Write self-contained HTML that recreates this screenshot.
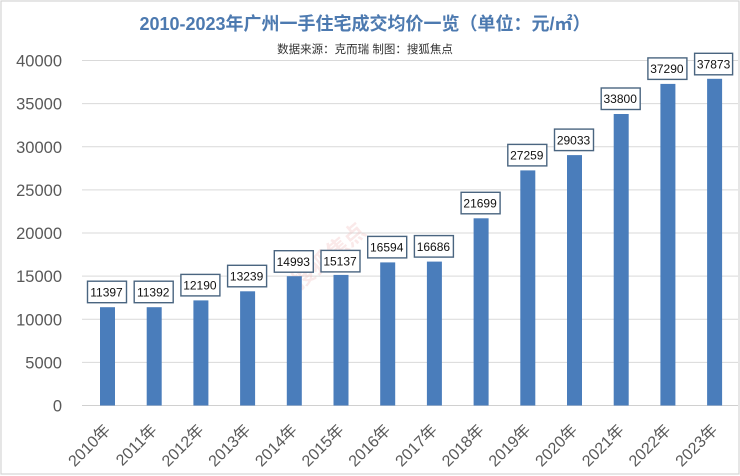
<!DOCTYPE html>
<html>
<head>
<meta charset="utf-8">
<style>
  html,body{margin:0;padding:0;background:#fff;}
  body{width:740px;height:476px;overflow:hidden;}
  svg{display:block;}
  .t{font-family:"Liberation Sans","Noto Sans CJK SC",sans-serif;}
</style>
</head>
<body>
<svg width="740" height="476" viewBox="0 0 740 476" xmlns="http://www.w3.org/2000/svg">
  <rect x="0" y="0" width="740" height="476" fill="#ffffff"/>
  <rect x="1" y="1" width="738" height="473" fill="none" stroke="#d4d4d4" stroke-width="1.2"/>

  <!-- Title -->
  <text class="t" x="365" y="30" text-anchor="middle" font-size="18" font-weight="bold" fill="#4d7ab0">2010-2023年广州一手住宅成交均价一览（单位：元/㎡）</text>
  <text class="t" x="365" y="53" text-anchor="middle" font-size="11.5" fill="#333333">数据来源：克而瑞 制图：搜狐焦点</text>

  <!-- Gridlines -->
  <g stroke="#d9d9d9" stroke-width="1">
    <line x1="82" y1="60.5" x2="738" y2="60.5"/>
    <line x1="82" y1="103.6" x2="738" y2="103.6"/>
    <line x1="82" y1="146.75" x2="738" y2="146.75"/>
    <line x1="82" y1="189.9" x2="738" y2="189.9"/>
    <line x1="82" y1="233" x2="738" y2="233"/>
    <line x1="82" y1="276.1" x2="738" y2="276.1"/>
    <line x1="82" y1="319.25" x2="738" y2="319.25"/>
    <line x1="82" y1="362.4" x2="738" y2="362.4"/>
  </g>
  <line x1="82" y1="405.5" x2="738" y2="405.5" stroke="#d0d0d0" stroke-width="1"/>

  <!-- Y labels -->
  <g class="t" font-size="16.5" fill="#595959" text-anchor="end">
    <text x="62" y="66.5">40000</text>
    <text x="62" y="109.6">35000</text>
    <text x="62" y="152.75">30000</text>
    <text x="62" y="195.9">25000</text>
    <text x="62" y="239">20000</text>
    <text x="62" y="282.1">15000</text>
    <text x="62" y="325.25">10000</text>
    <text x="62" y="368.4">5000</text>
    <text x="62" y="411.5">0</text>
  </g>

  <!-- Watermark -->
  <text class="t" x="0" y="0" font-size="22" font-weight="bold" fill="#f0b8b8" opacity="0.3" transform="translate(300,290) rotate(-40)">搜狐焦点</text>

  <!-- Bars -->
  <g fill="#4a7dbb">
    <rect x="100" y="307.2" width="15" height="98.3"/>
    <rect x="146.7" y="307.2" width="15" height="98.3"/>
    <rect x="193.4" y="300.4" width="15" height="105.1"/>
    <rect x="240.1" y="291.3" width="15" height="114.2"/>
    <rect x="286.8" y="276.2" width="15" height="129.3"/>
    <rect x="333.5" y="274.9" width="15" height="130.6"/>
    <rect x="380.2" y="262.4" width="15" height="143.1"/>
    <rect x="426.9" y="261.6" width="15" height="143.9"/>
    <rect x="473.6" y="218.3" width="15" height="187.2"/>
    <rect x="520.3" y="170.4" width="15" height="235.1"/>
    <rect x="567" y="155.1" width="15" height="250.4"/>
    <rect x="613.7" y="114" width="15" height="291.5"/>
    <rect x="660.4" y="83.9" width="15" height="321.6"/>
    <rect x="707.1" y="78.8" width="15" height="326.7"/>
  </g>

  <!-- Data label boxes -->
  <g fill="#ffffff" stroke="#4a6580" stroke-width="1.4">
    <rect x="87.5" y="281.2" width="39" height="21.5"/>
    <rect x="134.2" y="281.2" width="39" height="21.5"/>
    <rect x="180.9" y="274.4" width="39" height="21.5"/>
    <rect x="227.6" y="265.3" width="39" height="21.5"/>
    <rect x="274.3" y="250.7" width="39" height="21.5"/>
    <rect x="321" y="250.4" width="39" height="21.5"/>
    <rect x="367.7" y="236.4" width="39" height="21.5"/>
    <rect x="414.4" y="235.6" width="39" height="21.5"/>
    <rect x="461.1" y="192.3" width="39" height="21.5"/>
    <rect x="507.8" y="144.4" width="39" height="21.5"/>
    <rect x="554.5" y="129.1" width="39" height="21.5"/>
    <rect x="601.2" y="88" width="39" height="21.5"/>
    <rect x="647.9" y="57.9" width="39" height="21.5"/>
    <rect x="694.6" y="53.3" width="38" height="21.5"/>
  </g>
  <g class="t" font-size="12" fill="#111111" text-anchor="middle">
    <text x="106.5" y="296.4">11397</text>
    <text x="153.2" y="296.4">11392</text>
    <text x="199.9" y="289.6">12190</text>
    <text x="246.6" y="280.5">13239</text>
    <text x="293.3" y="265.9">14993</text>
    <text x="340" y="265.6">15137</text>
    <text x="386.7" y="251.6">16594</text>
    <text x="433.4" y="250.8">16686</text>
    <text x="480.1" y="207.5">21699</text>
    <text x="526.8" y="159.6">27259</text>
    <text x="573.5" y="144.3">29033</text>
    <text x="620.2" y="103.2">33800</text>
    <text x="666.9" y="73.1">37290</text>
    <text x="713.6" y="68.5">37873</text>
  </g>

  <!-- X labels -->
  <g class="t" font-size="16" fill="#595959" text-anchor="end">
    <text transform="translate(111.3,431) rotate(-45)">2010年</text>
    <text transform="translate(158,431) rotate(-45)">2011年</text>
    <text transform="translate(204.7,431) rotate(-45)">2012年</text>
    <text transform="translate(251.4,431) rotate(-45)">2013年</text>
    <text transform="translate(298.1,431) rotate(-45)">2014年</text>
    <text transform="translate(344.8,431) rotate(-45)">2015年</text>
    <text transform="translate(391.5,431) rotate(-45)">2016年</text>
    <text transform="translate(438.2,431) rotate(-45)">2017年</text>
    <text transform="translate(484.9,431) rotate(-45)">2018年</text>
    <text transform="translate(531.6,431) rotate(-45)">2019年</text>
    <text transform="translate(578.3,431) rotate(-45)">2020年</text>
    <text transform="translate(625,431) rotate(-45)">2021年</text>
    <text transform="translate(671.7,431) rotate(-45)">2022年</text>
    <text transform="translate(718.4,431) rotate(-45)">2023年</text>
  </g>
</svg>
</body>
</html>
